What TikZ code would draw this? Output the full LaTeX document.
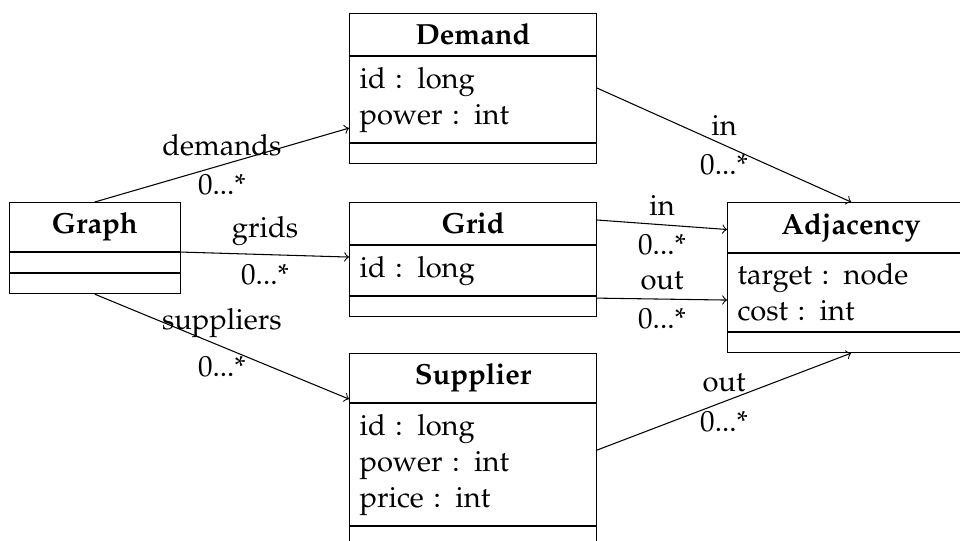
\documentclass[tikz,border=0pt]{standalone}
\usepackage[T1]{fontenc}
\usepackage{mathpazo}
\usetikzlibrary{calc}
% one drawing unit
\newcommand{\pxu}{0.3778pt}
\begin{document}
\begin{tikzpicture}[x=\pxu, y=-\pxu,
  every node/.style={font=\fontsize{11pt}{13.6pt}\selectfont},
  classhead/.style={draw, rectangle, inner sep=0pt, anchor=north west,
    font=\fontsize{11pt}{13.6pt}\selectfont\bfseries},
  classattr/.style={draw, rectangle, anchor=north west, align=left,
    inner xsep=10*\pxu, inner ysep=0pt},
  classops/.style={draw, rectangle, anchor=north west, inner sep=0pt,
    minimum height=20*\pxu},
  assoc/.style={->},
  role/.style={midway, above},
  mult/.style={midway, below}]
\clip (0,0) rectangle (960,541);

% Graph
\node[classhead, minimum width=171.5*\pxu, minimum height=49*\pxu] (graph) at (8.5,202) {Graph};
\node[classops, minimum width=171.5*\pxu] (graph-attr) at (graph.south west) {};
\node[classops, minimum width=171.5*\pxu] (graph-ops) at (graph-attr.south west) {};

% Demand
\node[classhead, minimum width=247*\pxu, minimum height=42*\pxu] (demand) at (349,13) {Demand};
\node[classattr, text width=227*\pxu, minimum height=86*\pxu] (demand-attr) at (demand.south west) {id : long\\power : int};
\node[classops, minimum width=247*\pxu] (demand-ops) at (demand-attr.south west) {};

% Grid
\node[classhead, minimum width=247*\pxu, minimum height=42*\pxu] (grid) at (349,202) {Grid};
\node[classattr, text width=227*\pxu, minimum height=50*\pxu] (grid-attr) at (grid.south west) {id : long};
\node[classops, minimum width=247*\pxu] (grid-ops) at (grid-attr.south west) {};

% Supplier
\node[classhead, minimum width=247*\pxu, minimum height=49*\pxu] (supplier) at (349,353) {Supplier};
\node[classattr, text width=227*\pxu, minimum height=122*\pxu] (supplier-attr) at (supplier.south west) {id : long\\power : int\\price : int};
\node[classops, minimum width=247*\pxu] (supplier-ops) at (supplier-attr.south west) {};

% Adjacency
\node[classhead, minimum width=247*\pxu, minimum height=50*\pxu] (adj) at (727,202) {Adjacency};
\node[classattr, text width=227*\pxu, minimum height=78*\pxu] (adj-attr) at (adj.south west) {target : node\\cost : int};
\node[classops, minimum width=247*\pxu] (adj-ops) at (adj-attr.south west) {};

% associations
\draw[assoc] (graph.north) -- node[role]{demands} node[mult]{0...*}
  ($(demand-attr.south west)+(0,-15)$);
\draw[assoc] (graph.south east) -- node[role]{grids} node[mult]{0...*}
  ($(grid-attr.north west)+(0,12)$);
\draw[assoc] (graph-ops.south) -- node[role]{suppliers} node[mult]{0...*}
  ($(supplier.south west)+(0,-4)$);
\draw[assoc] ($(demand-attr.north east)+(0,32)$) -- node[role]{in} node[mult]{0...*}
  (adj.north);
\draw[assoc] ($(grid.north east)+(0,18)$) -- node[role]{in} node[mult]{0...*}
  ($(adj.north west)+(0,27.5)$);
\draw[assoc] ($(grid-ops.north east)+(0,2)$) -- node[role]{out} node[mult]{0...*}
  ($(adj-attr.north west)+(0,47)$);
\draw[assoc] ($(supplier-attr.north east)+(0,47)$) -- node[role]{out} node[mult]{0...*}
  (adj-ops.south);
\end{tikzpicture}
\end{document}
